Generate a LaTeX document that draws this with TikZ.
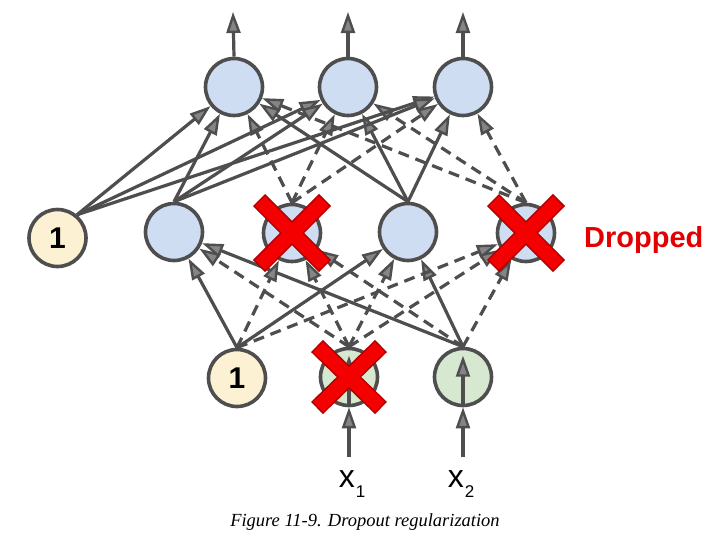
\documentclass[tikz,border=0pt]{standalone}
\usepackage{fontspec}
\setmainfont{Liberation Sans}
\newfontfamily\capfont{Liberation Serif}
\usetikzlibrary{arrows.meta,calc}
\definecolor{edgegray}{HTML}{4E4E4E}
\definecolor{tipfill}{HTML}{858585}
\definecolor{bluefill}{HTML}{CEDDF2}
\definecolor{greenfill}{HTML}{D6E8D0}
\definecolor{creamfill}{HTML}{FDF1D3}
\definecolor{xred}{HTML}{F50000}
\definecolor{xdark}{HTML}{B00000}
\definecolor{dropred}{HTML}{E30000}
\newcommand\subsize{\fontsize{17}{17}\selectfont}
\begin{document}
\begin{tikzpicture}[x=1pt,y=-1pt,
  neuron/.style={circle, draw=edgegray, line width=3.6pt, minimum size=57pt, inner sep=0pt},
  hidden/.style={neuron, fill=bluefill},
  inputn/.style={neuron, fill=greenfill},
  biasn/.style={neuron, fill=creamfill, font=\fontsize{30}{30}\selectfont\bfseries},
  conn/.style={draw=edgegray, line width=3.2pt, -{Triangle[length=21pt,width=14pt,fill=tipfill,line width=2.4pt]}},
  dropconn/.style={conn, dash pattern=on 11pt off 7pt},
  inlabel/.style={font=\fontsize{32}{32}\selectfont, inner sep=0pt, anchor=base},
  droptext/.style={font=\fontsize{29}{29}\selectfont\bfseries, text=dropred, inner sep=0pt, anchor=base west},
  captext/.style={font=\capfont\itshape\fontsize{18.5}{18.5}\selectfont, inner sep=0pt, anchor=base},
  xouter/.style={draw=xdark, line width=17pt, line cap=butt},
  xinner/.style={draw=xred, line width=14pt, line cap=butt, shorten <=1.5pt, shorten >=1.5pt}
]
\fill[white] (0,0) rectangle (718,549);
\useasboundingbox (0,0) rectangle (718,549);

% output layer
\node[hidden] (T1) at (234,87) {};
\node[hidden] (T2) at (348,87) {};
\node[hidden] (T3) at (463,87) {};
% hidden layer
\node[biasn] (M0) at (57.5,238) {1};
\node[hidden] (M1) at (174,232) {};
\node[hidden] (M2) at (292,233) {};
\node[hidden] (M3) at (408,232) {};
\node[hidden] (M4) at (526,233) {};
% input layer
\node[biasn] (B1) at (237,378) {1};
\node[inputn] (B2) at (349,377) {};
\node[inputn] (B3) at (463,377) {};

% labels
\node[droptext] (dl) at (584,247) {Dropped};
\node[inlabel] (lx1) at (352,487) {x\kern1pt\raisebox{-10pt}{\subsize 1}};
\node[inlabel] (lx2) at (461,487) {x\kern1pt\raisebox{-10pt}{\subsize 2}};
\node[captext] (cap) at (365,526) {Figure 11-9. Dropout regularization};

% free ends
\coordinate (o1) at (233,12);
\coordinate (o2) at (348,12);
\coordinate (o3) at (463,12);
\coordinate (i1) at (349,457);
\coordinate (i2) at (463,457);
\coordinate (B2top) at ($(B2.north)+(0,9)$);
\coordinate (B3top) at ($(B3.north)+(0,9)$);

% outputs
\draw[conn] (T1.north) -- (o1);
\draw[conn] (T2.north) -- (o2);
\draw[conn] (T3.north) -- (o3);

% hidden -> output
\foreach \t in {T1,T2,T3} {
  \draw[conn] (M0.50) -- (\t);
  \draw[conn] (M1.north) -- (\t);
  \draw[dropconn] (M2.north) -- (\t);
  \draw[conn] (M3.north) -- (\t);
  \draw[dropconn] (M4.north) -- (\t);
}

% input -> hidden
\foreach \m in {M1,M3} {
  \draw[conn] (B1.north) -- (\m);
  \draw[dropconn] (B2.north) -- (\m);
  \draw[conn] (B3.north) -- (\m);
}
\foreach \m in {M2,M4} {
  \draw[dropconn] (B1.north) -- (\m);
  \draw[dropconn] (B2.north) -- (\m);
  \draw[dropconn] (B3.north) -- (\m);
}

% inputs
\draw[conn] (i1) -- (B2.south);
\draw[conn] (i2) -- (B3.south);
\draw[conn] (B2.south) -- (B2top);
\draw[conn] (B3.south) -- (B3top);

% dropout crosses
\foreach \n/\dx/\dy in {M2/33/33, M4/33/33, B2/32/31} {
  \draw[xouter] ($(\n)+(-\dx,-\dy)$) -- ($(\n)+(\dx,\dy)$);
  \draw[xouter] ($(\n)+(\dx,-\dy)$) -- ($(\n)+(-\dx,\dy)$);
  \draw[xinner] ($(\n)+(-\dx,-\dy)$) -- ($(\n)+(\dx,\dy)$);
  \draw[xinner] ($(\n)+(\dx,-\dy)$) -- ($(\n)+(-\dx,\dy)$);
}
\end{tikzpicture}
\end{document}
